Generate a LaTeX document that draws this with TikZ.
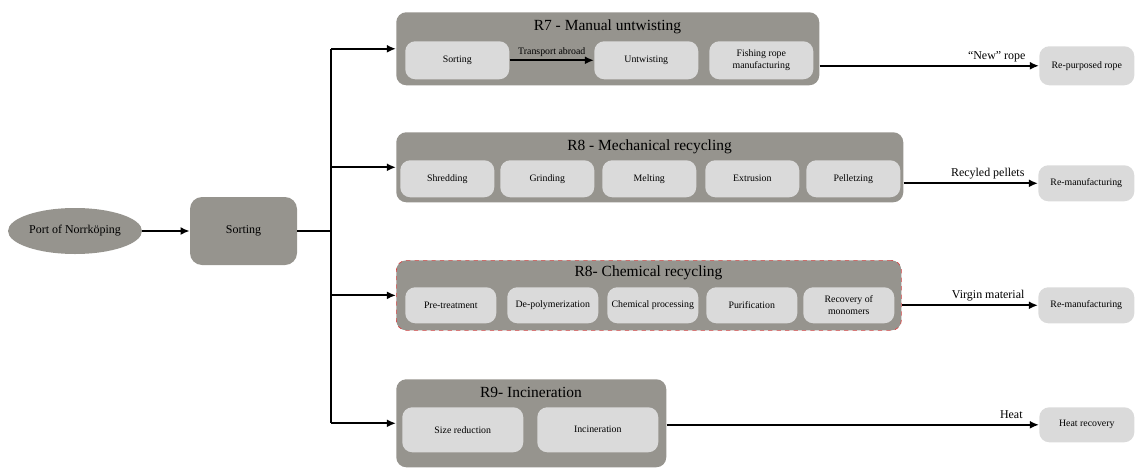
\documentclass[tikz,border=0pt]{standalone}
\usepackage{fontspec}
\setmainfont{Liberation Serif}
\usetikzlibrary{shapes,arrows,positioning,arrows.meta}

\definecolor{stonegray}{RGB}{150,148,142}
\definecolor{palegray}{RGB}{218,218,218}
\definecolor{dashred}{RGB}{214,70,70}

\tikzset{
    dims/.style 2 args={minimum width=#1*0.025cm, minimum height=#2*0.025cm},
    group/.style={fill=stonegray, rounded corners=0.25cm, anchor=north west, inner sep=0pt},
    stage/.style={fill=palegray, rounded corners=0.25cm, anchor=north west, inner sep=0pt,
        align=center, font=\fontsize{7}{8.5}\selectfont},
    grouptitle/.style={font=\fontsize{11}{13}\selectfont},
    flow/.style={-{Latex[length=2.3mm,width=2mm]}, line width=1.35pt},
    plain/.style={line width=1.35pt},
    flowlabel/.style={font=\fontsize{8.5}{10}\selectfont, anchor=south east, inner sep=2pt}
}

\begin{document}
\begin{tikzpicture}[x=0.025cm, y=-0.025cm]
    \useasboundingbox (0,0) rectangle (1135,467);

    % Source and first sorting
    \node[ellipse, fill=stonegray, dims={134}{46}, inner sep=0pt, font=\fontsize{8.5}{10}\selectfont] (port) at (75,231) {Port of Norrköping};
    \node[fill=stonegray, rounded corners=0.3cm, dims={107}{68}, inner sep=0pt, font=\fontsize{8.5}{10}\selectfont] (sort) at (243.5,231) {Sorting};
    \coordinate (spine) at (331,232);

    % R7 - Manual untwisting
    \node[group, dims={423}{73}] (r7) at (396,12) {};
    \node[grouptitle] (r7title) at (607.5,27) {R7 - Manual untwisting};
    \node[stage, dims={104}{38}] (r7sort) at (405,41) {Sorting};
    \node[stage, dims={104}{38}] (r7untw) at (594,41) {Untwisting};
    \node[stage, dims={104}{38}] (r7rope) at (709,41) {Fishing rope\\manufacturing};

    % R8 - Mechanical recycling
    \node[group, dims={507}{70}] (mech) at (396,132) {};
    \node[grouptitle] (mechtitle) at (649.5,147) {R8 - Mechanical recycling};
    \foreach \x/\name/\txt in {400/shred/Shredding, 500/grind/Grinding, 602/melt/Melting, 705/extr/Extrusion, 806/pell/Pelletzing} {
        \node[stage, dims={94}{37}] (mech\name) at (\x,160) {\txt};
    }

    % R8 - Chemical recycling
    \node[group, dims={505}{70}, draw=dashred, dashed, line width=0.5pt] (chem) at (396,260) {};
    \node[grouptitle] (chemtitle) at (648.5,273) {R8- Chemical recycling};
    \foreach \x/\name/\txt in {405/pre/Pre-treatment, 507/depol/De-polymerization, 607/proc/Chemical processing, 706/puri/Purification, 803/mono/{Recovery of\\monomers}} {
        \node[stage, dims={91}{36}] (chem\name) at (\x,287) {\txt};
    }

    % R9 - Incineration
    \node[group, dims={270}{88}] (r9) at (396,379) {};
    \node[grouptitle] (r9title) at (531,392) {R9- Incineration};
    \node[stage, dims={121}{45}] (r9size) at (402,407) {Size reduction};
    \node[stage, dims={121}{45}] (r9inc) at (537,407) {Incineration};

    % End uses
    \node[stage, dims={95}{39}] (rope) at (1039,46) {Re-purposed rope};
    \node[stage, dims={96}{36}] (reman) at (1038,165) {Re-manufacturing};
    \node[stage, dims={96}{36}] (remanchem) at (1038,287) {Re-manufacturing};
    \node[stage, dims={95}{35}] (heat) at (1039,407) {Heat recovery};

    % Connectors
    \draw[flow] (port) -- (sort);
    \draw[plain] (sort) -- (sort -| spine);
    \draw[plain] (spine |- r7.west) -- (spine |- r9.west);
    \foreach \g in {r7, mech, chem, r9} {
        \draw[flow] (spine |- \g.west) -- (\g.west);
    }
    \draw[flow] (r7sort) -- node[above, font=\fontsize{7}{8}\selectfont, inner sep=2pt] {Transport abroad} (r7untw);

    \draw[flow] (rope.west -| r7.east) -- (rope.west) node[flowlabel, xshift=-7pt] {“New” rope};
    \draw[flow] (reman.west -| mech.east) -- (reman.west) node[flowlabel, xshift=-7pt] {Recyled pellets};
    \draw[flow] (remanchem.west -| chem.east) -- (remanchem.west) node[flowlabel, xshift=-7pt] {Virgin material};
    \draw[flow] (heat.west -| r9.east) -- (heat.west) node[flowlabel, xshift=-7pt, inner sep=4pt] {Heat};
\end{tikzpicture}
\end{document}
